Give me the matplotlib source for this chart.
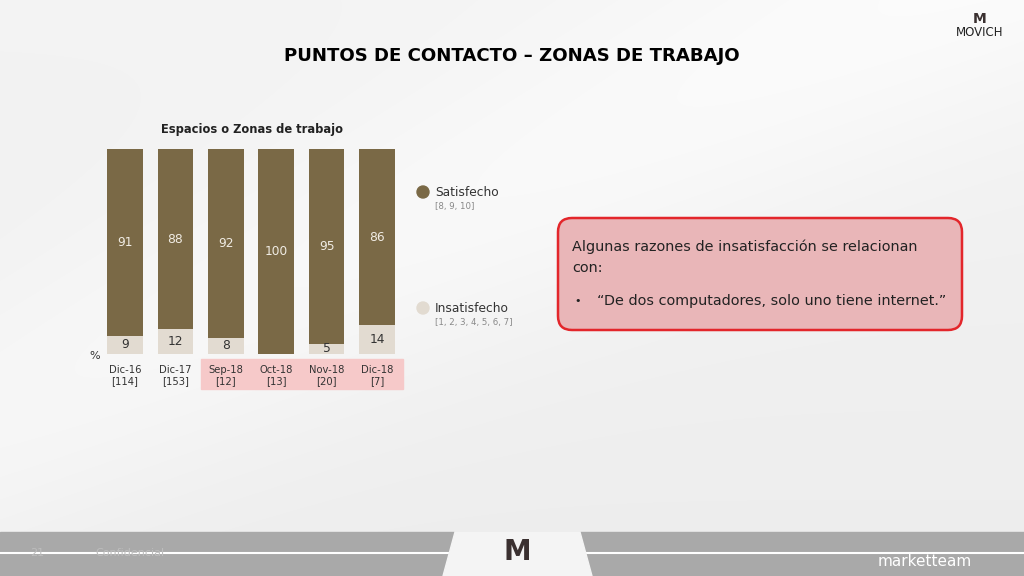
import matplotlib
matplotlib.use("Agg")
import matplotlib.pyplot as plt
import matplotlib.patches as patches
import numpy as np

plt.rcParams['font.family'] = ['DejaVu Sans']

# data
periods = ["Dic-16", "Dic-17", "Sep-18", "Oct-18", "Nov-18", "Dic-18"]
bases = ["[114]", "[153]", "[12]", "[13]", "[20]", "[7]"]
satisfecho = [91, 88, 92, 100, 95, 86]
insatisfecho = [9, 12, 8, 0, 5, 14]

dark = "#7a6946"
light = "#e2dbd1"
pink = "#f6c9c9"

fig = plt.figure(figsize=(10.24, 5.76), dpi=100)

# background / decoration axes in pixel coords
bg = fig.add_axes([0, 0, 1, 1])
bg.set_xlim(0, 1024)
bg.set_ylim(576, 0)
bg.axis("off")
yy, xx = np.mgrid[0:576, 0:1024]
shade = 0.955 + 0.03 * np.exp(-((xx * 0.45 + yy - 420) / 160.0) ** 2) \
    - 0.025 * (yy / 576.0)
shade = np.clip(shade, 0, 1)
bg.imshow(np.dstack([shade] * 3), extent=(0, 1024, 576, 0), aspect="auto", zorder=0)

# footer band
bg.add_patch(patches.Rectangle((0, 532), 1024, 44, color="#a9a9a9", zorder=1))
bg.plot([0, 1024], [553, 553], color="white", lw=1.5, zorder=2)
bg.add_patch(patches.Polygon([(455, 532), (580, 532), (592, 576), (443, 576)],
                             color="#f4f4f4", zorder=3))
bg.text(517, 552, "M", ha="center", va="center", fontsize=20, color="#3a3030",
        fontweight="bold", zorder=4)
bg.text(30, 553, "21", ha="left", va="center", fontsize=8, color="#bdbdbd", zorder=4)
bg.text(95, 553, "Confidencial", ha="left", va="center", fontsize=8, color="#bdbdbd", zorder=4)
bg.text(925, 562, "marketteam", ha="center", va="center", fontsize=11, color="white", zorder=4)

# logo top right
bg.text(980, 19, "M", ha="center", va="center", fontsize=10, color="#3a3030",
        fontweight="bold")
bg.text(980, 32, "MOVICH", ha="center", va="center", fontsize=8.5, color="#222222")

# main title
bg.text(512, 56, "PUNTOS DE CONTACTO – ZONAS DE TRABAJO", ha="center", va="center",
        fontsize=13.1, fontweight="bold", color="black")

# chart title
bg.text(252, 129, "Espacios o Zonas de trabajo", ha="center", va="center",
        fontsize=8.3, fontweight="bold", color="#222222")

# pink highlight behind last four period labels
bg.add_patch(patches.Rectangle((201, 359), 202, 30, color=pink, zorder=1))

# legend
bg.add_patch(patches.Circle((423, 192), 6, color=dark, zorder=2))
bg.text(435, 192, "Satisfecho", ha="left", va="center", fontsize=8.8, color="#333333")
bg.text(435, 206, "[8, 9, 10]", ha="left", va="center", fontsize=6.2, color="#888888")
bg.add_patch(patches.Circle((423, 308), 6, color=light, zorder=2))
bg.text(435, 308, "Insatisfecho", ha="left", va="center", fontsize=8.8, color="#333333")
bg.text(435, 322, "[1, 2, 3, 4, 5, 6, 7]", ha="left", va="center", fontsize=6.2, color="#888888")

bg.text(95, 356, "%", ha="center", va="center", fontsize=8, color="#333333")

# comment box
bg.add_patch(patches.FancyBboxPatch((560, 220), 400, 108,
                                    boxstyle="round,pad=2,rounding_size=14",
                                    facecolor="#e9b6b8", edgecolor="#e3262b", lw=1.8, zorder=2))
bg.text(572, 247, "Algunas razones de insatisfacción se relacionan", ha="left", va="center",
        fontsize=10.4, color="#222222", zorder=3)
bg.text(572, 268, "con:", ha="left", va="center", fontsize=10.4, color="#222222", zorder=3)
bg.text(574, 301, "•", ha="left", va="center", fontsize=8, color="#222222", zorder=3)
bg.text(597, 301, "“De dos computadores, solo uno tiene internet.”", ha="left", va="center",
        fontsize=10.4, color="#222222", zorder=3)

# bar chart
ax = fig.add_axes([99.8 / 1024, (576 - 354) / 576, 302.4 / 1024, 205 / 576])
ax.patch.set_alpha(0)
x = np.arange(len(periods))
ax.bar(x, insatisfecho, width=0.71, color=light)
ax.bar(x, satisfecho, width=0.71, bottom=insatisfecho, color=dark)
for i in range(len(periods)):
    ax.text(x[i], insatisfecho[i] + satisfecho[i] / 2, str(satisfecho[i]), ha="center",
            va="center", fontsize=8.8, color="#f0ece4")
    if insatisfecho[i] > 0:
        ax.text(x[i], insatisfecho[i] / 2, str(insatisfecho[i]), ha="center",
                va="center", fontsize=8.8, color="#333333")
ax.set_xlim(-0.5, len(periods) - 0.5)
ax.set_ylim(0, 100)
ax.set_xticks(x)
ax.set_xticklabels([p + "\n" + b for p, b in zip(periods, bases)], fontsize=7.2,
                   color="#333333", linespacing=1.1)
ax.tick_params(axis="x", length=0, pad=8)
ax.set_yticks([])
for s in ax.spines.values():
    s.set_visible(False)

fig.savefig("out.png", dpi=100)
